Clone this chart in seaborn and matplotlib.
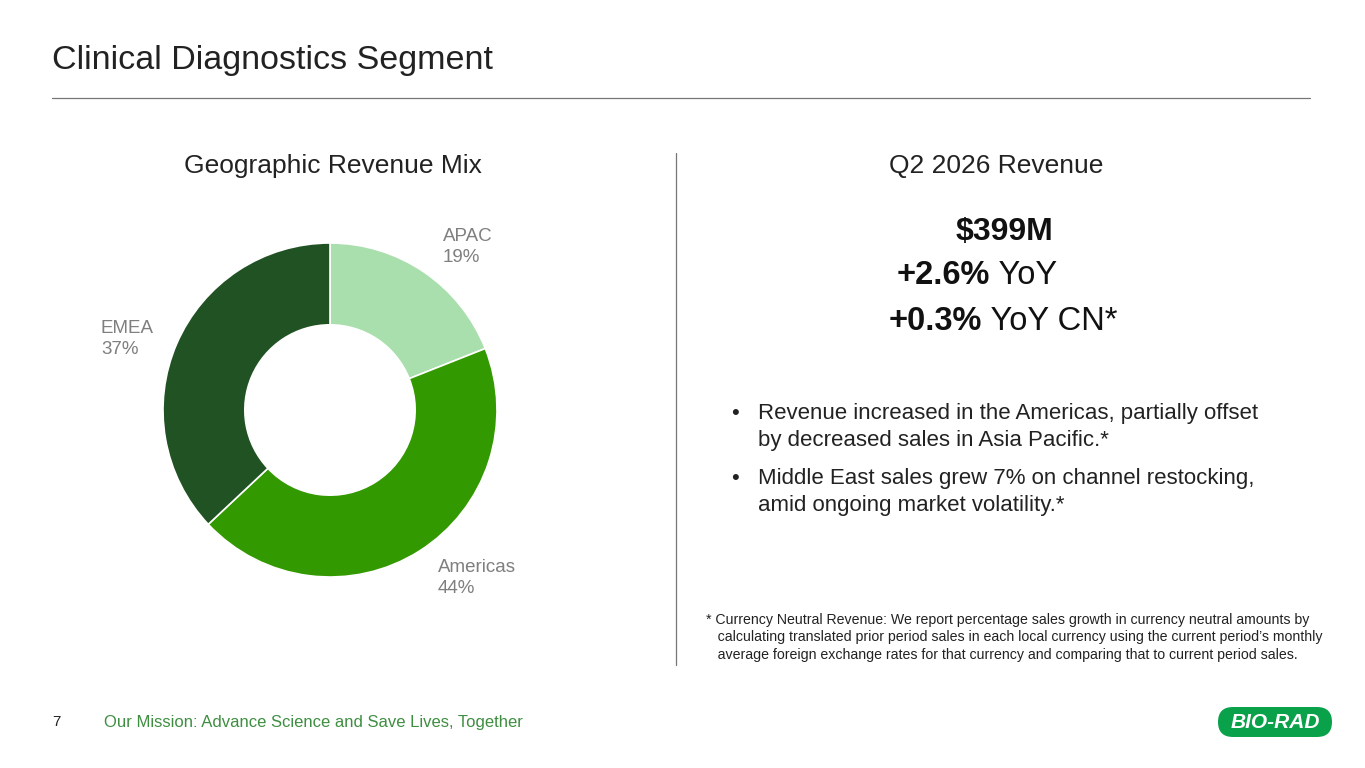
import matplotlib
matplotlib.use("Agg")
import matplotlib.pyplot as plt
from matplotlib.patches import FancyBboxPatch
import seaborn as sns

# data
regions = ["APAC", "Americas", "EMEA"]
shares = [19, 44, 37]
colors = ["#A9DFAC", "#339900", "#215223"]

sns.set_style("white")
plt.rcParams["font.family"] = ["Liberation Sans", "DejaVu Sans"]

W, H = 1365, 768
fig = plt.figure(figsize=(W / 100, H / 100), dpi=100)

def tx(x, y, s, **kw):
    fig.text(x / W, 1 - y / H, s, **kw)

# header
tx(52, 60, "Clinical Diagnostics Segment", fontsize=24.5, color="#222222", va="center")
fig.add_artist(plt.Line2D([52 / W, 1310 / W], [1 - 98 / H] * 2, color="#777777", lw=0.9))
# divider
fig.add_artist(plt.Line2D([676 / W] * 2, [1 - 153 / H, 1 - 665 / H], color="#777777", lw=0.9))

# donut
cx, cy, r = 330, 410, 167
ax = fig.add_axes([(cx - r) / W, (H - cy - r) / H, 2 * r / W, 2 * r / H])
ax.pie(shares, colors=colors, startangle=90, counterclock=False,
       wedgeprops=dict(width=0.49, edgecolor="white", linewidth=1.2), radius=1)
ax.set_aspect("equal")
ax.set_xlim(-1, 1)
ax.set_ylim(-1, 1)
ax.axis("off")

lab_pos = [(443, 247), (438, 578), (101, 339)]
for (x, y), name, v in zip(lab_pos, regions, shares):
    tx(x, y, f"{name}\n{v}%", fontsize=13.5, color="#7F7F7F", va="center", linespacing=1.25)

tx(333, 166, "Geographic Revenue Mix", fontsize=19, color="#222222", ha="center", va="center")
tx(996, 166, "Q2 2026 Revenue", fontsize=19, color="#222222", ha="center", va="center")

tx(1004, 232, "$399M", fontsize=23, fontweight="bold", color="#111111", ha="center", va="center")
tx(990, 275, "+2.6%", fontsize=23.5, fontweight="bold", color="#111111", ha="right", va="center")
tx(990, 275, " YoY", fontsize=23.5, color="#111111", ha="left", va="center")
tx(982, 322, "+0.3%", fontsize=23.5, fontweight="bold", color="#111111", ha="right", va="center")
tx(982, 322, " YoY CN*", fontsize=23.5, color="#111111", ha="left", va="center")

bullets = [
    (403, "Revenue increased in the Americas, partially offset\nby decreased sales in Asia Pacific.*"),
    (468, "Middle East sales grew 7% on channel restocking,\namid ongoing market volatility.*"),
]
for y, s in bullets:
    tx(731, y, "•", fontsize=16, color="#222222", va="top")
    tx(758, y, s, fontsize=16, color="#222222", va="top", linespacing=1.38)

tx(706, 613, "* Currency Neutral Revenue: We report percentage sales growth in currency neutral amounts by\n"
   "   calculating translated prior period sales in each local currency using the current period\u2019s monthly\n"
   "   average foreign exchange rates for that currency and comparing that to current period sales.",
   fontsize=10.2, color="#222222", va="top", linespacing=1.3)

# footer
tx(52, 722, "7", fontsize=11, color="#222222", va="center")
tx(104, 722, "Our Mission: Advance Science and Save Lives, Together", fontsize=12, color="#3E8E41", va="center")
logo = FancyBboxPatch((1218 / W, 1 - 737 / H), 114 / W, 30 / H,
                      boxstyle="round,pad=0,rounding_size=0.011", transform=fig.transFigure,
                      facecolor="#0AA14B", edgecolor="none", mutation_aspect=W / H)
fig.add_artist(logo)
tx(1275, 722, "BIO-RAD", fontsize=15, fontweight="bold", fontstyle="italic", color="white",
   ha="center", va="center")

fig.savefig("out.png", dpi=100, facecolor="white")
